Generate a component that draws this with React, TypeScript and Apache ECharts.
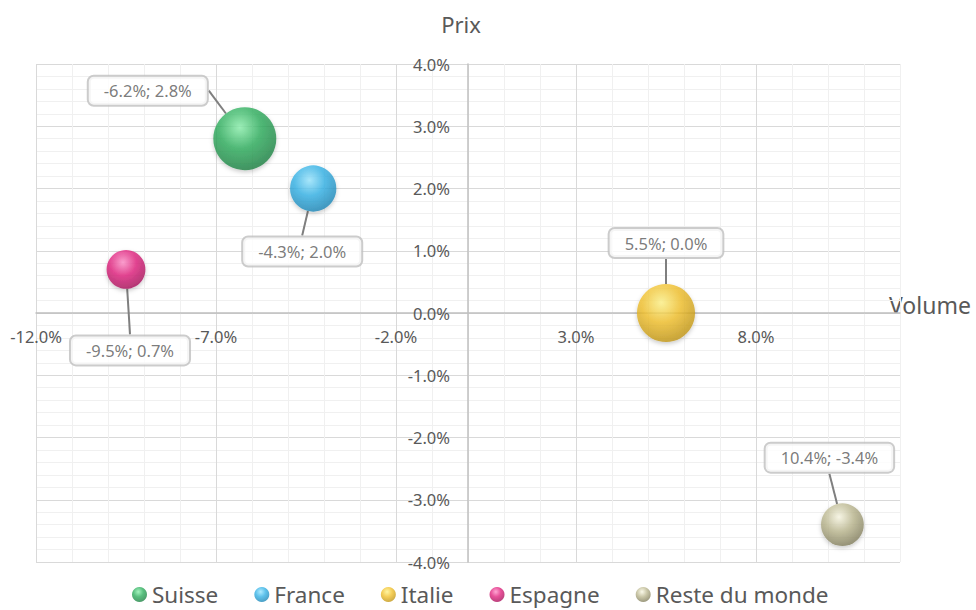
import React, { useEffect, useRef } from "react";
import * as echarts from "echarts";

// ---- Data ----
const categories = ["Suisse", "France", "Italie", "Espagne", "Reste du monde"];
const volume = [-6.2, -4.3, 5.5, -9.5, 10.4]; // % (x)
const prix = [2.8, 2.0, 0.0, 0.7, -3.4]; // % (y)
const poids = [100, 54, 85, 38, 46]; // bubble size (relative area)

const xTickLabels = ["-12.0%", "-7.0%", "-2.0%", "3.0%", "8.0%"];
const yTickLabels = ["-4.0%", "-3.0%", "-2.0%", "-1.0%", "0.0%", "1.0%", "2.0%", "3.0%", "4.0%"];

// ---- Styles / layout ----
const FONT = "Noto Sans";
const TEXT = "#595959";
const sphere: [string, string, string][] = [
  ["#8DF0AE", "#2FAE5E", "#1C7A40"],
  ["#9BE6FF", "#35B2E6", "#1B7FAE"],
  ["#FFF38A", "#F2C12E", "#B88E12"],
  ["#FF8FC8", "#E1247F", "#9E0F55"],
  ["#FAF8E4", "#BDB992", "#7A7656"],
];
const labelOffsets: [number, number][] = [
  [-97, -48],
  [-11, 63],
  [0, -70],
  [4, 81],
  [-13, -67],
];
const MAX_D = 63;
const W = 976;
const H = 610;
const GRID = { left: 36, right: 76, top: 64, bottom: 48 };
const X_MIN = -12, X_MAX = 12, Y_MIN = -4, Y_MAX = 4;

export default function App() {
  const ref = useRef<HTMLDivElement>(null);
  useEffect(() => {
    if (!ref.current) return;
    const chart = echarts.init(ref.current, undefined, { renderer: "svg" });
    const maxW = Math.max(...poids);
    const gw = W - GRID.left - GRID.right;
    const gh = H - GRID.top - GRID.bottom;
    // distance from grid edge to the zero line of the other axis
    const yAxisShift = (gw * (0 - X_MIN)) / (X_MAX - X_MIN);
    const xAxisShift = (gh * (0 - Y_MIN)) / (Y_MAX - Y_MIN);

    const series = categories.map((name, i) => ({
      name,
      type: "scatter",
      data: [[volume[i], prix[i], poids[i]]],
      symbol: "circle",
      symbolSize: (v: number[]) => MAX_D * Math.sqrt(v[2] / maxW),
      itemStyle: {
        color: {
          type: "radial",
          x: 0.42,
          y: 0.32,
          r: 0.75,
          colorStops: [
            { offset: 0, color: sphere[i][0] },
            { offset: 0.45, color: sphere[i][1] },
            { offset: 1, color: sphere[i][2] },
          ],
        },
        shadowBlur: 4,
        shadowColor: "rgba(0,0,0,0.25)",
        shadowOffsetY: 2,
      },
      label: {
        show: true,
        position: "inside",
        formatter: (p: any) =>
          `${(p.value[0] as number).toFixed(1)}%; ${(p.value[1] as number).toFixed(1)}%`,
        color: TEXT,
        fontFamily: FONT,
        fontSize: 16.5,
        lineHeight: 18,
        backgroundColor: "#ffffff",
        borderColor: "#BFBFBF",
        borderWidth: 2,
        borderRadius: 5,
        padding: [5, 15],
      },
      labelLayout: { dx: labelOffsets[i][0], dy: labelOffsets[i][1] },
      labelLine: { show: true, lineStyle: { color: "#7F7F7F", width: 2 } },
      z: 5,
    }));

    const xMajor = (v: number) => {
      const k = Math.round(v);
      return xTickLabels.find((t) => parseFloat(t) === k);
    };
    const yLabel = (v: number) => {
      const s = v.toFixed(1) + "%";
      return yTickLabels.includes(s) ? s : "";
    };

    chart.setOption({
      animation: false,
      grid: { ...GRID, outerBoundsMode: "none", containLabel: false },
      xAxis: {
        type: "value",
        min: X_MIN,
        max: X_MAX,
        interval: 1,
        position: "bottom",
        offset: -xAxisShift,
        axisLine: { onZero: false, lineStyle: { color: "#BFBFBF", width: 1.5 } },
        axisTick: { show: false },
        axisLabel: {
          margin: 15,
          color: TEXT,
          fontFamily: FONT,
          fontSize: 16.5,
          formatter: (v: number) => xMajor(v) || "",
          showMinLabel: true,
          showMaxLabel: false,
        },
        splitLine: {
          show: true,
          lineStyle: { color: ["#D9D9D9", "#F0F0F0", "#F0F0F0", "#F0F0F0", "#F0F0F0"], width: 1 },
        },
      },
      yAxis: {
        type: "value",
        min: Y_MIN,
        max: Y_MAX,
        interval: 1,
        position: "left",
        offset: -yAxisShift,
        axisLine: { onZero: false, lineStyle: { color: "#BFBFBF", width: 1.5 } },
        axisTick: { show: false },
        minorTick: { show: false, splitNumber: 5 },
        minorSplitLine: { show: true, lineStyle: { color: "#F0F0F0", width: 1 } },
        axisLabel: {
          margin: 18,
          color: TEXT,
          fontFamily: FONT,
          fontSize: 16.5,
          formatter: yLabel,
        },
        splitLine: { show: true, lineStyle: { color: "#D9D9D9", width: 1 } },
      },
      legend: {
        data: categories,
        left: 132,
        top: 583,
        icon: "circle",
        itemWidth: 15,
        itemHeight: 15,
        itemGap: 36,
        padding: 0,
        textStyle: { color: TEXT, fontFamily: FONT, fontSize: 22.5, lineHeight: 22 },
      },
      graphic: [
        {
          type: "text",
          x: 461,
          y: 24,
          style: {
            text: "Prix",
            fill: TEXT,
            font: `22px "${FONT}"`,
            align: "center",
            verticalAlign: "middle",
            textAlign: "center",
            textVerticalAlign: "middle",
          },
        },
        {
          type: "text",
          x: 889,
          y: 305,
          style: {
            text: "Volume",
            fill: TEXT,
            font: `23px "${FONT}"`,
            align: "left",
            verticalAlign: "middle",
            textAlign: "left",
            textVerticalAlign: "middle",
          },
        },
      ],
      series,
    });
    return () => chart.dispose();
  }, []);
  return (
    <div
      ref={ref}
      style={{ position: "fixed", left: 0, top: 0, width: W, height: H, background: "#fff" }}
    />
  );
}
